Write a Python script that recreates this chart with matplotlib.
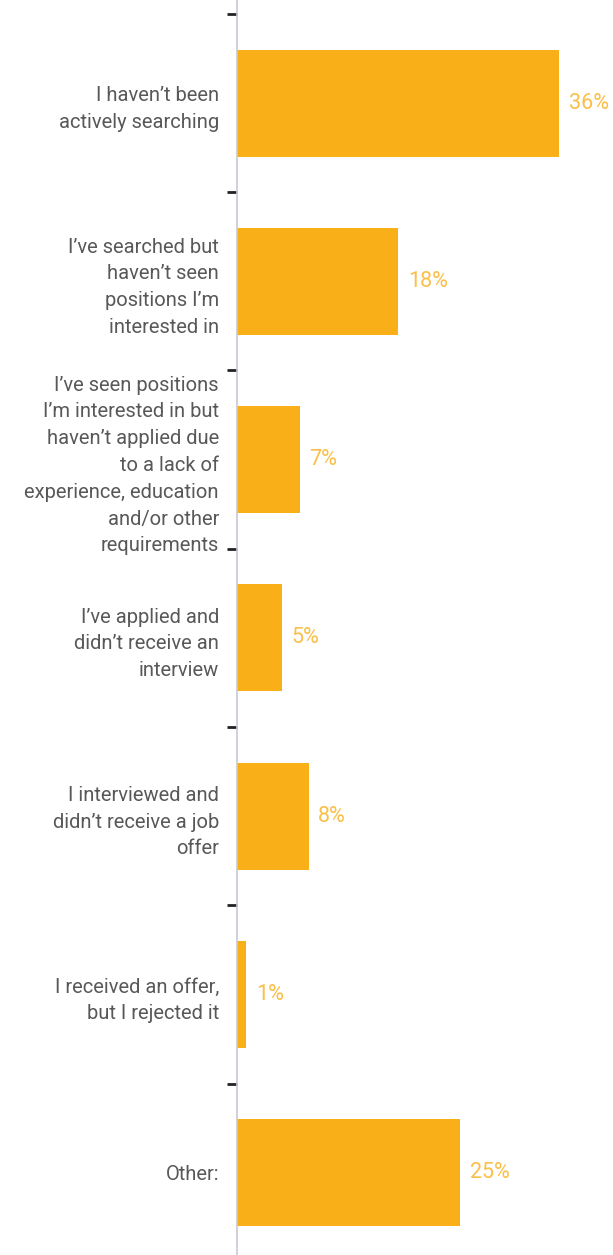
import numpy as np
import matplotlib.pyplot as plt

reasons = [
    "I haven’t been\nactively searching",
    "I’ve searched but\nhaven’t seen\npositions I’m\ninterested in",
    "I’ve seen positions\nI’m interested in but\nhaven’t applied due\nto a lack of\nexperience, education\nand/or other\nrequirements",
    "I’ve applied and\ndidn’t receive an\ninterview",
    "I interviewed and\ndidn’t receive a job\noffer",
    "I received an offer,\nbut I rejected it",
    "Other:",
]
shares = [36, 18, 7, 5, 8, 1, 25]

bar_color = '#F9AF17'
label_color = '#FBBF48'
text_color = '#585858'

plt.rcParams['font.family'] = ['Roboto', 'DejaVu Sans']

fig = plt.figure(figsize=(6.13, 12.55), dpi=100)
ax = fig.add_axes([237 / 613, 0, 1 - 237 / 613, 1])

y = np.arange(len(reasons))
ax.barh(y, shares, height=0.6, color=bar_color)

for yi, v in zip(y, shares):
    ax.text(v + 1.1, yi, f'{v}%', va='center', ha='left',
            color=label_color, fontsize=15.5)

ax.set_xlim(0, 42.06)
ax.set_ylim(6.461, -0.578)

# dark ticks between categories, labels at the bar centres
ax.set_yticks(np.arange(len(reasons)) - 0.5)
ax.set_yticklabels([])
ax.tick_params(axis='y', which='major', length=7, width=2, color='#222222')
ax.set_yticks(y, minor=True)
ax.set_yticklabels(reasons, minor=True, fontsize=14.5, color=text_color,
                   linespacing=1.52)
ax.tick_params(axis='y', which='minor', length=0, pad=13)

ax.set_xticks([])
for side in ['top', 'right', 'bottom']:
    ax.spines[side].set_visible(False)
ax.spines['left'].set_color('#C8C9D2')
ax.spines['left'].set_linewidth(1.2)

fig.savefig('out.png', dpi=100)
